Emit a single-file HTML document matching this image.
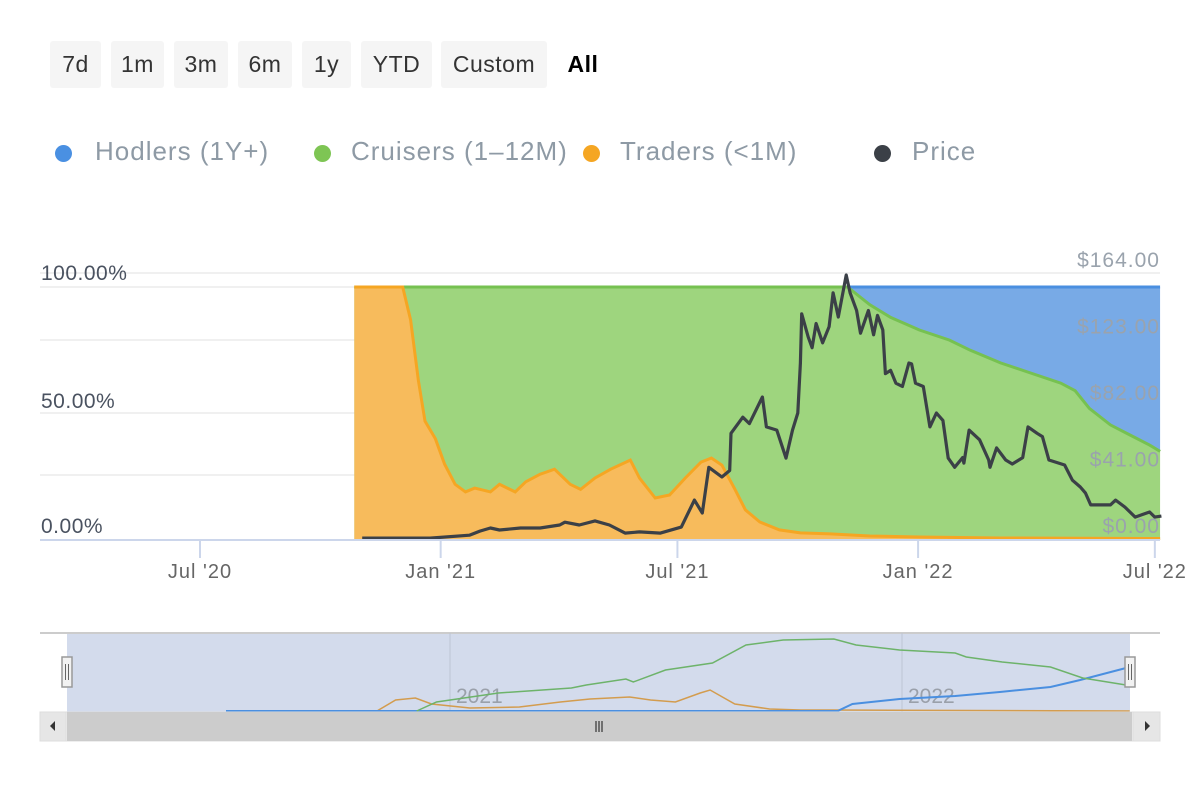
<!DOCTYPE html>
<html><head><meta charset="utf-8">
<style>
body{margin:0;width:1200px;height:800px;background:#fff;font-family:"Liberation Sans",sans-serif;overflow:hidden;position:relative}
.btn{position:absolute;top:41px;height:47px;background:#f5f5f5;border-radius:3px;font-size:23px;color:#333;line-height:47px;text-align:center;letter-spacing:0.5px}
.leg{position:absolute;top:134px;font-size:26px;color:#8e9aa5;line-height:34px;letter-spacing:1px}
.dot{position:absolute;top:145px;width:17px;height:17px;border-radius:50%}
</style></head><body>
<div class="btn" style="left:50px;width:51px">7d</div>
<div class="btn" style="left:111px;width:53px">1m</div>
<div class="btn" style="left:174px;width:54px">3m</div>
<div class="btn" style="left:238px;width:54px">6m</div>
<div class="btn" style="left:302px;width:49px">1y</div>
<div class="btn" style="left:361px;width:71px">YTD</div>
<div class="btn" style="left:441px;width:106px">Custom</div>
<div class="btn" style="left:556px;width:54px;background:none;font-weight:bold;color:#000">All</div>

<div class="dot" style="left:55px;background:#4a90e2"></div>
<div class="leg" style="left:95px">Hodlers (1Y+)</div>
<div class="dot" style="left:314px;background:#7ec554"></div>
<div class="leg" style="left:351px">Cruisers (1–12M)</div>
<div class="dot" style="left:583px;background:#f5a623"></div>
<div class="leg" style="left:620px">Traders (&lt;1M)</div>
<div class="dot" style="left:874px;background:#3b4047"></div>
<div class="leg" style="left:912px">Price</div>

<svg id="c" width="1200" height="800" style="position:absolute;left:0;top:0"></svg>
<script>
// days since 2020-07-01
const traderDays=[118,155,161,167,172,180,187,195,203,210,222,229,241,249,260,271,283,291,302,314,329,336,348,359,371,383,391,399,409,417,428,443,459,482,512,550,611,734];
const traderPct=[100,100,87,63,47,40,30,22,19,20.5,19,22,19,23,26,28,22,20,24.5,28,31.6,24.5,16.6,17.8,24.5,30.8,32.4,29.6,20,11.9,7.1,4,2.8,2.4,1.6,1.2,0.8,0.6];
const hodlerDays=[118,495,512,528,550,573,589,612,635,658,669,680,696,711,726,734];
const hodlerPct=[0,0,7,12,17,21,25,30,34,38,41,48,54.5,58.5,62.5,65];
const priceDays=[124,176,206,214,222,229,245,260,275,279,290,302,313,325,336,352,368,378,384,389,399,405,406,415,420,430,433,441,448,453,457,459,460,465,468,471,476,481,484,488,492,494,497,502,505,511,515,518,522,524,528,532,537,542,544,547,553,558,563,568,572,577,583,584,588,596,603,604,609,616,621,629,633,640,644,649,661,667,673,677,681,696,700,707,715,726,730,735];
const priceVal=[1.2,1.2,3,5.5,7.4,6.2,7.4,7.4,9.3,11,9.3,11.8,9.3,4.3,5,4.3,8,24.7,16.7,45,39,43,66,76,72,88.5,70,68,50.7,68,78.6,109.5,140,125.6,119,134,122,132,153,138,155,164,153,142,128,142,127,139,130,103,105,97,95,109.5,109,97,95,70,78.6,74,50.7,45,51,47.6,68,62,49.5,45,57,49.5,47,51,70,66,64,49.5,46.4,37,32.8,29,21.7,21.7,24.7,20.4,14.2,17.3,14.2,14.8];
const xTicks=[0,184,365,549,730];
const xTickLabels=["Jul '20","Jan '21","Jul '21","Jan '22","Jul '22"];
const pctTicks=[0,50,100];
const priceTicks=[0,41,82,123,164];
const navGreenDays=[154,170,220,279,291,323,329,355,393,420,450,491,509,544,589,598,627,666,692,727];
const navGreenVal=[0,9,18,23,26,32,29,41,48,66,71,72,66,61,58,54,49,44,33,26];
const navOrangeDays=[0,122,137,153,166,197,237,270,294,326,343,363,383,391,411,439,464,488,730];
const navOrangeVal=[0,0,11,13,7,3,4,9,12,14,11,9,18,21,7,2,1,1,0];
const navBlueDays=[0,494,506,544,589,625,666,690,727];
const navBlueVal=[0,0,7,12,15,19,24,31,43];

const X=d=>200+d*1.308, YP=p=>540-p*2.53, YM=v=>540-v*1.616;
const NX=d=>226+d*1.238, NY=v=>711-v;
const svg=document.getElementById('c');
function el(t,a,p){const e=document.createElementNS('http://www.w3.org/2000/svg',t);for(const k in a)e.setAttribute(k,a[k]);(p||svg).appendChild(e);return e;}
function pts(ds,vs,fx,fy){return ds.map((d,i)=>fx(d).toFixed(1)+','+fy(vs[i]).toFixed(1));}
[273,287,340,413,475].forEach(y=>{const g=el('line',{x1:40,x2:1160,y1:y,y2:y,stroke:'#f0f0f0','stroke-width':2});
});
const d0=traderDays[0], dn=traderDays[traderDays.length-1];
let a=el('polygon',{fill:'#78aae6',points:[X(d0)+','+YP(100),X(dn)+','+YP(100)].concat(pts(hodlerDays,hodlerPct,X,p=>YP(100-p)).reverse()).join(' ')});

a=el('polygon',{fill:'#9ed57e',points:[X(d0)+','+YP(0)].concat(pts(hodlerDays,hodlerPct,X,p=>YP(100-p))).concat([X(dn)+','+YP(0)]).join(' ')});

a=el('polygon',{fill:'#f7bb5c',points:[X(d0)+','+YP(0)].concat(pts(traderDays,traderPct,X,YP)).concat([X(dn)+','+YP(0)]).join(' ')});

a=el('polyline',{fill:'none',stroke:'#4a8fe0','stroke-width':3,points:X(hodlerDays[1])+','+YP(100)+' '+X(dn)+','+YP(100)});

a=el('polyline',{fill:'none',stroke:'#76c151','stroke-width':3,points:pts(hodlerDays,hodlerPct,X,p=>YP(100-p)).join(' ')});

a=el('polyline',{fill:'none',stroke:'#f5a623','stroke-width':3,points:pts(traderDays,traderPct,X,YP).join(' ')});

a=el('polyline',{fill:'none',stroke:'#3b4047','stroke-width':3.2,'stroke-linejoin':'round',points:pts(priceDays,priceVal,X,YM).join(' ')});

a=el('line',{x1:40,x2:1160,y1:540,y2:540,stroke:'#ccd6eb','stroke-width':2});

xTicks.forEach((d,i)=>{let t=el('line',{x1:X(d),x2:X(d),y1:540,y2:558,stroke:'#ccd6eb','stroke-width':2});

let l=el('text',{x:X(d),y:578,'text-anchor':'middle','font-size':20,fill:'#666','letter-spacing':1});l.textContent=xTickLabels[i];
});
const pctY={0:533,50:408,100:280};
pctTicks.forEach(p=>{let l=el('text',{x:41,y:pctY[p],'font-size':21,fill:'#4a5260','letter-spacing':0.5});l.textContent=p.toFixed(2)+'%';
});
priceTicks.forEach((v,i)=>{let l=el('text',{x:1160,y:533-i*66.5,'text-anchor':'end','font-size':21,fill:'#9aa3ad','letter-spacing':1});l.textContent='$'+v.toFixed(2);
});
a=el('rect',{x:67,y:633,width:1063,height:79,fill:'#d3dbec'});

a=el('line',{x1:40,x2:1160,y1:633,y2:633,stroke:'#ccc','stroke-width':2});

[450,902].forEach((x,i)=>{let g=el('line',{x1:x,x2:x,y1:633,y2:712,stroke:'#bcc4d4'});

let t=el('text',{x:x+6,y:703,'font-size':21,fill:'#9aa0aa'});t.textContent=i?'2022':'2021';
});
a=el('polyline',{fill:'none',stroke:'#d39c4e','stroke-width':1.5,points:pts(navOrangeDays,navOrangeVal,NX,NY).join(' ')});

a=el('polyline',{fill:'none',stroke:'#4a8fe0','stroke-width':2,points:pts(navBlueDays,navBlueVal,NX,NY).join(' ')});

a=el('polyline',{fill:'none',stroke:'#6db36a','stroke-width':1.5,points:pts(navGreenDays,navGreenVal,NX,NY).join(' ')});

[67,1130].forEach((x,i)=>{let h=el('rect',{x:x-5,y:657,width:10,height:30,fill:'#f2f2f2',stroke:'#999','stroke-width':1.5});

el('line',{x1:x-1.5,x2:x-1.5,y1:664,y2:680,stroke:'#666'});el('line',{x1:x+1.5,x2:x+1.5,y1:664,y2:680,stroke:'#666'});});
a=el('rect',{x:40,y:712,width:1120,height:29,fill:'#f0f0f0',stroke:'#ddd'});

a=el('rect',{x:67,y:712,width:1065,height:29,fill:'#cccccc'});

[596,599,602].forEach(x=>el('line',{x1:x,x2:x,y1:721,y2:732,stroke:'#333','stroke-width':1.2}));
a=el('rect',{x:40,y:712,width:26,height:29,fill:'#e6e6e6',stroke:'#ddd'});

a=el('rect',{x:1133,y:712,width:27,height:29,fill:'#e6e6e6',stroke:'#ddd'});

el('polygon',{points:'50,726 55,721 55,731',fill:'#333'});
el('polygon',{points:'1150,726 1145,721 1145,731',fill:'#333'});
</script>
</body></html>
